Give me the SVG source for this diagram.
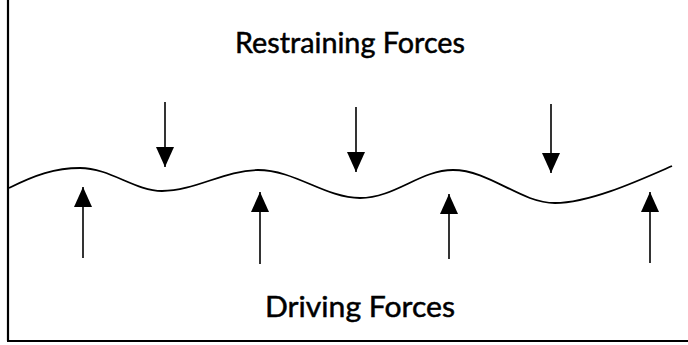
<svg xmlns="http://www.w3.org/2000/svg" width="688" height="345" viewBox="0 0 688 345">
<style>
.lbl{font-family:Lato,"Liberation Sans",sans-serif;font-size:29px;fill:#000;stroke:#000;stroke-width:0.5;text-anchor:middle}
.shaft{stroke:#000;stroke-width:1.6;fill:none}
.frame{stroke:#000;stroke-width:2.2;fill:none}
</style>
<defs>
<marker id="ah" viewBox="0 0 20 18" refX="20" refY="9" markerWidth="20" markerHeight="18" markerUnits="userSpaceOnUse" orient="auto">
<path d="M0,0 L20,9 L0,18 Z" fill="#000"/>
</marker>
</defs>
<rect width="688" height="345" fill="#fff"/>
<g id="frame">
<line class="frame" x1="8" y1="0" x2="8" y2="341"/>
<line class="frame" x1="7" y1="341" x2="688" y2="341"/>
</g>
<g id="wave">
<path d="M9,188 C35,175 55,168 80,168 C110,168 135,191 162,191 C195,191 225,170 258,170 C295,170 325,198 360,198 C395,198 420,170 453,170 C490,170 520,203 555,203 C590,203 640,180 672,166" fill="none" stroke="#000" stroke-width="1.8"/>
</g>
<g id="label-restraining"><text class="lbl" x="350" y="53" textLength="230" lengthAdjust="spacingAndGlyphs">Restraining Forces</text></g>
<g id="label-driving"><text class="lbl" x="360" y="317" textLength="190" lengthAdjust="spacingAndGlyphs">Driving Forces</text></g>
<g id="connectors">
<line class="shaft" x1="165" y1="102" x2="165" y2="167" marker-end="url(#ah)"/>
<line class="shaft" x1="356" y1="107" x2="356" y2="172" marker-end="url(#ah)"/>
<line class="shaft" x1="551" y1="104" x2="551" y2="173" marker-end="url(#ah)"/>
<line class="shaft" x1="83" y1="258" x2="83" y2="187" marker-end="url(#ah)"/>
<line class="shaft" x1="260" y1="264" x2="260" y2="192" marker-end="url(#ah)"/>
<line class="shaft" x1="449" y1="259" x2="449" y2="194" marker-end="url(#ah)"/>
<line class="shaft" x1="650" y1="263" x2="650" y2="192" marker-end="url(#ah)"/>
</g>
</svg>
